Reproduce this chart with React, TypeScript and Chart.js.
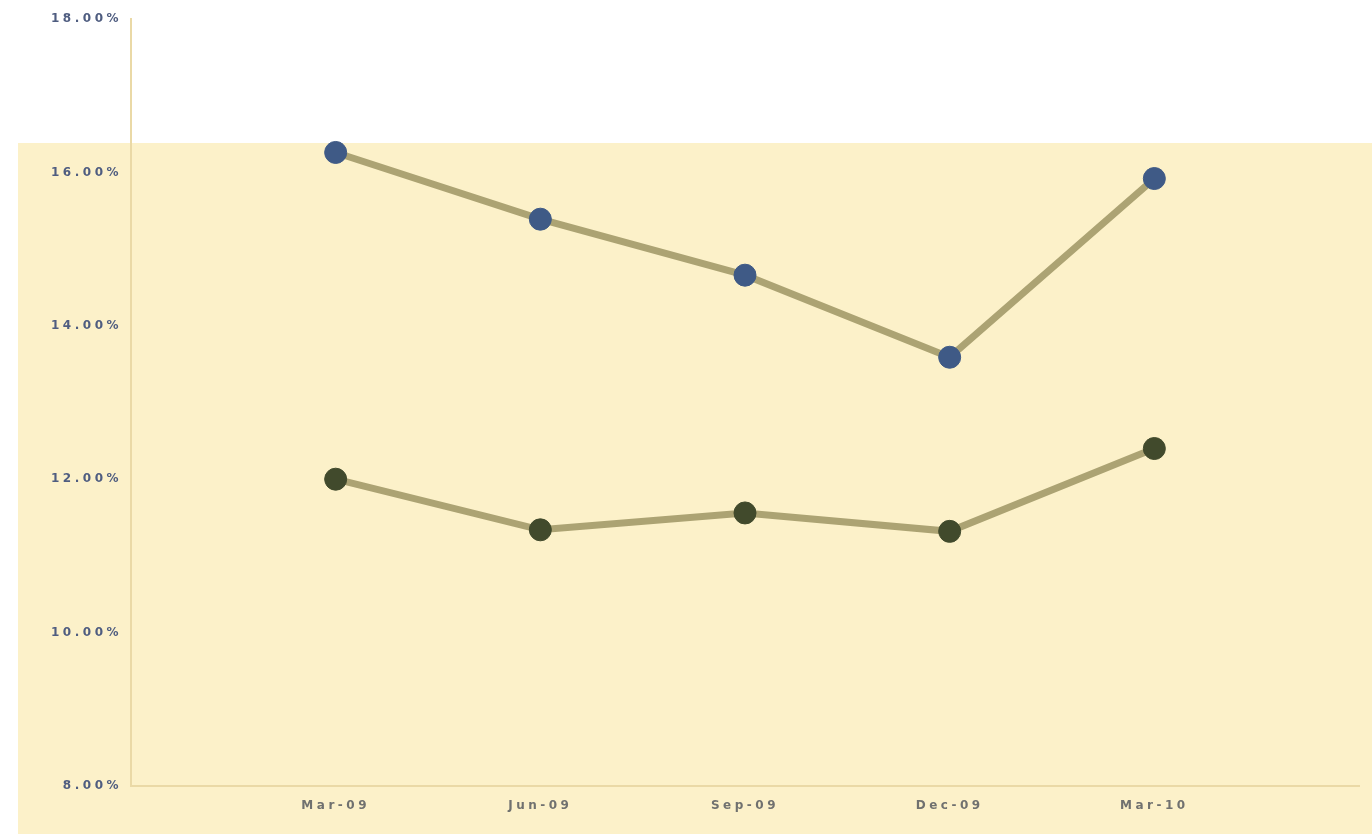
import React, { useEffect, useRef } from "react";
import { Chart, registerables } from "chart.js";

Chart.register(...registerables);

const categories = ["Mar-09", "Jun-09", "Sep-09", "Dec-09", "Mar-10"];
const upperSeries = [16.26, 15.39, 14.66, 13.59, 15.92];
const lowerSeries = [12.0, 11.34, 11.56, 11.32, 12.4];
const yMin = 8;
const yMax = 18;
const yStep = 2;

const bgPlugin = {
  id: "paperBg",
  beforeDraw(chart: any) {
    const { ctx, width, height } = chart;
    ctx.save();
    ctx.fillStyle = "#ffffff";
    ctx.fillRect(0, 0, width, height);
    ctx.fillStyle = "#fcf1c9";
    ctx.fillRect(18, 143, width - 18, height - 143);
    ctx.restore();
    try {
      (ctx as any).letterSpacing = "3.5px";
    } catch (e) {}
  },
};

export default function App() {
  const ref = useRef<HTMLCanvasElement | null>(null);

  useEffect(() => {
    document.body.style.margin = "0";
    if (!ref.current) return;
    const labels = ["", ...categories, ""];
    const pad = (arr: number[]) => [null, ...arr, null];
    const chart = new Chart(ref.current, {
      type: "line",
      data: {
        labels,
        datasets: [
          {
            data: pad(upperSeries) as any,
            borderColor: "#aca373",
            borderWidth: 7,
            pointRadius: 11,
            pointBackgroundColor: "#3f5a86",
            pointBorderColor: "#3f5a86",
            pointBorderWidth: 1,
            tension: 0,
          },
          {
            data: pad(lowerSeries) as any,
            borderColor: "#aca373",
            borderWidth: 7,
            pointRadius: 11,
            pointBackgroundColor: "#414a2c",
            pointBorderColor: "#414a2c",
            pointBorderWidth: 1,
            tension: 0,
          },
        ],
      },
      plugins: [bgPlugin],
      options: {
        animation: false,
        responsive: false,
        maintainAspectRatio: false,
        layout: { padding: { top: 19, right: 10, left: 0, bottom: 0 } },
        plugins: { legend: { display: false }, tooltip: { enabled: false } },
        scales: {
          x: {
            offset: false,
            grid: { display: false, drawTicks: false },
            border: { color: "#ead9a6", width: 2 },
            ticks: {
              color: "#70716f",
              font: { family: "DejaVu Sans", size: 12, weight: "bold" },
              padding: 13,
              autoSkip: false,
              maxRotation: 0,
            },
            afterFit: (s: any) => {
              s.height = 48;
            },
          },
          y: {
            min: yMin,
            max: yMax,
            grid: { display: false, drawTicks: false },
            border: { color: "#ead9a6", width: 2 },
            ticks: {
              stepSize: yStep,
              color: "#4f5d80",
              font: { family: "DejaVu Sans", size: 12, weight: "bold" },
              padding: 9,
              callback: (v: any) => Number(v).toFixed(2) + "%",
            },
            afterFit: (s: any) => {
              s.width = 131;
            },
          },
        },
      },
    });
    return () => chart.destroy();
  }, []);

  return (
    <div style={{ width: 1372, height: 834 }}>
      <canvas ref={ref} width={1372} height={834} style={{ display: "block" }} />
    </div>
  );
}
